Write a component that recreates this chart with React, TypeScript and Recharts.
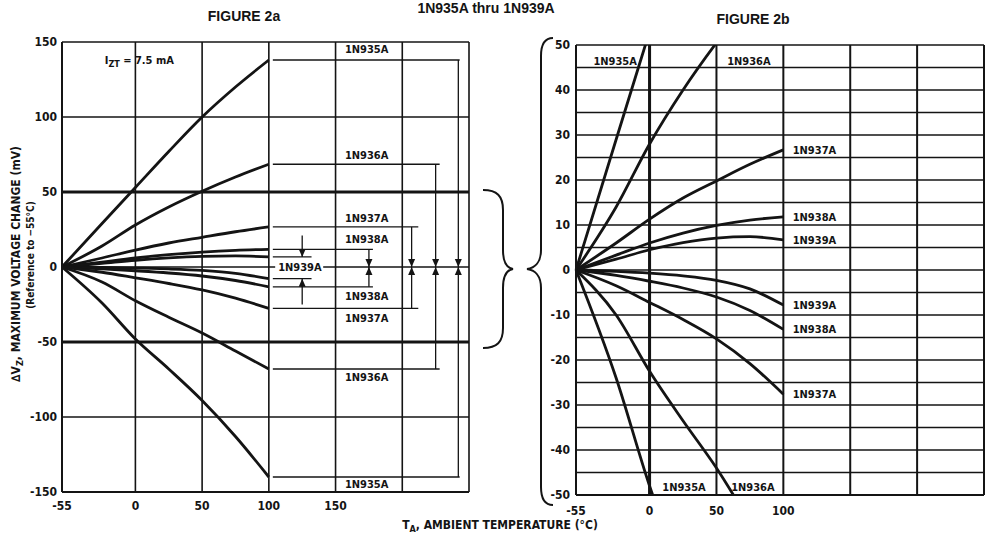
import React from 'react';
import { LineChart, Line, XAxis, YAxis, CartesianGrid, ReferenceLine, ReferenceDot } from 'recharts';

// ambient temperature (degC) sample points, shared by every curve
const temps = [-55, -25, 0, 25, 50, 75, 100];

// upper limit curves (mV, reference -55 degC)
const p935 = [0, 29, 53, 77, 100, 120, 138];
const p936 = [0, 14, 28, 40, 50.5, 60, 68.5];
const p937 = [0, 6, 11.3, 16, 19.8, 23.5, 26.7];
const p938 = [0, 3.3, 6, 8.2, 9.9, 11.1, 11.8];
const p939 = [0, 2.4, 4.5, 6.1, 7.1, 7.4, 6.7];
// lower limit curves
const n939 = [0, -0.3, -0.7, -1.3, -2.3, -4.2, -7.8];
const n938 = [0, -1.2, -2.5, -4, -6, -9, -13.2];
const n937 = [0, -3.5, -7.2, -11, -15.3, -20.8, -27.6];
const n936 = [0, -10, -22.5, -33.5, -44, -56, -68];
const n935 = [0, -24, -48, -68, -89, -113, -140];

const xTicks = [-55, 0, 50, 100, 150, 200, 250];
const leftYTicks = [-150, -100, -50, 0, 50, 100, 150];
const rightYTicks = [-50, -45, -40, -35, -30, -25, -20, -15, -10, -5, 0, 5, 10, 15, 20, 25, 30, 35, 40, 45, 50];

const rows = temps.map((t, i) => ({
  t,
  p935: p935[i], p936: p936[i], p937: p937[i], p938: p938[i], p939: p939[i],
  n939: n939[i], n938: n938[i], n937: n937[i], n936: n936[i], n935: n935[i],
}));
const keys = ['p935', 'p936', 'p937', 'p938', 'p939', 'n939', 'n938', 'n937', 'n936', 'n935'];
const last = (a: number[]) => a[a.length - 1];

const INK = '#141414';
const NARROW = "'Liberation Sans Narrow', 'DejaVu Sans Condensed', 'DejaVu Sans', sans-serif";
const WIDE = "'Liberation Sans', Arial, sans-serif";

const tickStyle = { fill: INK, fontSize: 12, fontWeight: 700, fontFamily: NARROW };

const textShape = (text: string, bg = false) => (p: any) => (
  <g>
    {bg && <rect x={p.cx - 3} y={p.cy - 7} width={48} height={14} fill="#fff" />}
    <text x={p.cx} y={p.cy} dy="0.36em" fontFamily={NARROW} fontWeight={700} fontSize={11} fill={INK}>
      {text}
    </text>
  </g>
);

const currentShape = (p: any) => (
  <text x={p.cx} y={p.cy} dy="0.36em" fontFamily={NARROW} fontWeight={700} fontSize={11} fill={INK}>
    I<tspan fontSize={9} dy={3}>ZT</tspan><tspan dy={-3}> = 7.5 mA</tspan>
  </text>
);

const arrowShape = (dir: 'up' | 'down') => (p: any) => {
  const { cx, cy } = p;
  const h = 8, w = 3.5;
  const b = dir === 'down' ? cy - h : cy + h;
  return <path d={`M${cx - w},${b} L${cx + w},${b} L${cx},${cy} Z`} fill={INK} />;
};

const curves = () =>
  keys.map((k) => (
    <Line key={k} dataKey={k} type="monotone" stroke={INK} strokeWidth={2.8} dot={false} isAnimationActive={false} />
  ));

// left figure annotation layout (data coords)
const leadStart = 103;
const leftLabels = [
  { text: '1N935A', t: 157, v: 145 },
  { text: '1N936A', t: 157, v: 74.5 },
  { text: '1N937A', t: 157, v: 32.5 },
  { text: '1N938A', t: 157, v: 18.5 },
  { text: '1N938A', t: 157, v: -19.5 },
  { text: '1N937A', t: 157, v: -34 },
  { text: '1N936A', t: 157, v: -73.5 },
  { text: '1N935A', t: 157, v: -145 },
];
const brackets = [
  { x: 242, end: 243, hi: last(p935), lo: last(n935) },
  { x: 225, end: 228, hi: last(p936), lo: last(n936) },
  { x: 207, end: 212, hi: last(p937), lo: last(n937) },
  { x: 175, end: 178, hi: last(p938), lo: last(n938) },
];

const rightLabels = [
  { text: '1N935A', t: -42, v: 46.5 },
  { text: '1N936A', t: 58, v: 46.5 },
  { text: '1N937A', t: 107, v: last(p937) },
  { text: '1N938A', t: 107, v: last(p938) },
  { text: '1N939A', t: 107, v: last(p939) },
  { text: '1N939A', t: 107, v: last(n939) },
  { text: '1N938A', t: 107, v: last(n938) },
  { text: '1N937A', t: 107, v: last(n937) },
  { text: '1N935A', t: 9.5, v: -48.3 },
  { text: '1N936A', t: 61, v: -48.3 },
];

function LeftFigure() {
  return (
    <LineChart width={480} height={537} data={rows} margin={{ top: 42, right: 11, bottom: 25, left: 0 }}>
      <CartesianGrid stroke={INK} strokeWidth={1.6} />
      <XAxis
        type="number" dataKey="t" domain={[-55, 250]} ticks={xTicks} interval={0} height={20}
        tickFormatter={(v: number) => (v <= 150 ? String(v) : '')}
        tick={tickStyle} tickLine={false} tickSize={4} tickMargin={5}
        axisLine={{ stroke: INK, strokeWidth: 2 }}
      />
      <YAxis
        type="number" domain={[-150, 150]} ticks={leftYTicks} interval={0} width={62}
        tick={tickStyle} tickLine={false} tickSize={2} tickMargin={3}
        axisLine={{ stroke: INK, strokeWidth: 2 }}
      />
      <ReferenceLine y={50} stroke={INK} strokeWidth={3} />
      <ReferenceLine y={-50} stroke={INK} strokeWidth={3} />
      {curves()}
      {brackets.map((b, i) => (
        <React.Fragment key={'b' + i}>
          <ReferenceLine segment={[{ x: leadStart, y: b.hi }, { x: b.end, y: b.hi }]} stroke={INK} strokeWidth={1.3} />
          <ReferenceLine segment={[{ x: leadStart, y: b.lo }, { x: b.end, y: b.lo }]} stroke={INK} strokeWidth={1.3} />
          <ReferenceLine segment={[{ x: b.x, y: b.hi }, { x: b.x, y: b.lo }]} stroke={INK} strokeWidth={1.3} />
          <ReferenceDot x={b.x} y={0} r={1} shape={arrowShape('down')} />
          <ReferenceDot x={b.x} y={0} r={1} shape={arrowShape('up')} />
        </React.Fragment>
      ))}
      <ReferenceLine segment={[{ x: leadStart, y: last(p939) }, { x: 132, y: last(p939) }]} stroke={INK} strokeWidth={1.3} />
      <ReferenceLine segment={[{ x: leadStart, y: last(n939) }, { x: 132, y: last(n939) }]} stroke={INK} strokeWidth={1.3} />
      <ReferenceLine segment={[{ x: 125, y: 21 }, { x: 125, y: last(p939) }]} stroke={INK} strokeWidth={1.3} />
      <ReferenceLine segment={[{ x: 125, y: -25 }, { x: 125, y: last(n939) }]} stroke={INK} strokeWidth={1.3} />
      <ReferenceDot x={125} y={last(p939)} r={1} shape={arrowShape('down')} />
      <ReferenceDot x={125} y={last(n939)} r={1} shape={arrowShape('up')} />
      {leftLabels.map((l, i) => (
        <ReferenceDot key={'l' + i} x={l.t} y={l.v} r={1} shape={textShape(l.text)} />
      ))}
      <ReferenceDot x={107} y={0} r={1} shape={textShape('1N939A', true)} />
      <ReferenceDot x={-23} y={138} r={1} shape={currentShape} />
    </LineChart>
  );
}

function RightFigure() {
  return (
    <LineChart width={469} height={537} data={rows} margin={{ top: 45, right: 5, bottom: 22, left: 0 }}>
      <CartesianGrid stroke={INK} strokeWidth={1.3} vertical={false} />
      <CartesianGrid stroke={INK} strokeWidth={2} horizontal={false} />
      <XAxis
        type="number" dataKey="t" domain={[-55, 250]} ticks={xTicks} interval={0} height={20}
        tickFormatter={(v: number) => (v <= 100 ? String(v) : '')}
        tick={tickStyle} tickLine={false} tickSize={4} tickMargin={7}
        axisLine={{ stroke: INK, strokeWidth: 2 }}
      />
      <YAxis
        type="number" domain={[-50, 50]} ticks={rightYTicks} interval={0} width={56} allowDataOverflow
        tickFormatter={(v: number) => (v % 10 === 0 ? String(v) : '')}
        tick={tickStyle} tickLine={false} tickSize={2} tickMargin={4}
        axisLine={{ stroke: INK, strokeWidth: 2 }}
      />
      <ReferenceLine x={0} stroke={INK} strokeWidth={3} />
      {curves()}
      {rightLabels.map((l, i) => (
        <ReferenceDot key={'r' + i} x={l.t} y={l.v} r={1} shape={textShape(l.text)} />
      ))}
    </LineChart>
  );
}

export default function App() {
  return (
    <div style={{ position: 'absolute', left: 0, top: 0, width: 989, height: 537, background: '#fff', overflow: 'hidden' }}>
      <div style={{ position: 'absolute', left: 0, top: 0 }}>
        <LeftFigure />
      </div>
      <div style={{ position: 'absolute', left: 520, top: 0 }}>
        <RightFigure />
      </div>
      <svg width={989} height={537} style={{ position: 'absolute', left: 0, top: 0, pointerEvents: 'none' }}>
        <g fill={INK} fontWeight={700}>
          <text x={486} y={13} textAnchor="middle" fontFamily={WIDE} fontSize={14}>1N935A thru 1N939A</text>
          <text x={244} y={21} textAnchor="middle" fontFamily={WIDE} fontSize={14}>FIGURE 2a</text>
          <text x={753} y={24} textAnchor="middle" fontFamily={WIDE} fontSize={14}>FIGURE 2b</text>
          <text x={16} y={264} dy="0.36em" transform="rotate(-90 16 264)" textAnchor="middle" fontFamily={NARROW} fontSize={12}>
            ∆V<tspan fontSize={9} dy={3}>Z</tspan><tspan dy={-3}>, MAXIMUM VOLTAGE CHANGE (mV)</tspan>
          </text>
          <text x={30} y={255} dy="0.36em" transform="rotate(-90 30 255)" textAnchor="middle" fontFamily={NARROW} fontSize={10}>
            (Reference to −55°C)
          </text>
          <text x={500} y={529} textAnchor="middle" fontFamily={NARROW} fontSize={12}>
            T<tspan fontSize={9} dy={3}>A</tspan><tspan dy={-3}>, AMBIENT TEMPERATURE (°C)</tspan>
          </text>
        </g>
        <g fill="none" stroke={INK} strokeWidth={2}>
          <path d="M483,190 C497,190 503,196 503,210 L503,250 C503,262 507,268 513,269 C507,270 503,276 503,288 L503,328 C503,342 497,348 483,348" />
          <path d="M553,38 C545,38 541,44 541,56 L541,250 C541,262 535,268 527,269 C535,270 541,276 541,288 L541,487 C541,499 545,505 553,505" />
        </g>
      </svg>
    </div>
  );
}
